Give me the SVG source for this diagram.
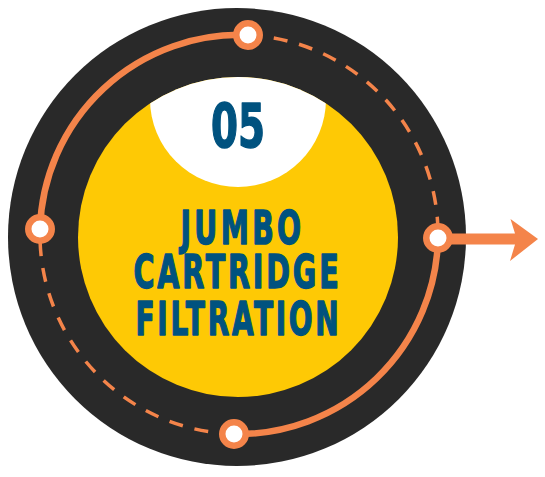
<svg xmlns="http://www.w3.org/2000/svg" width="545" height="477" viewBox="0 0 545 477">
  <defs>
    <clipPath id="yellowClip">
      <circle cx="238" cy="237" r="160"/>
    </clipPath>
    <style>
      .solid { fill: none; stroke: #f4844a; stroke-width: 6.5; stroke-linecap: round; }
      .dashed { fill: none; stroke: #f4844a; stroke-width: 3.5; stroke-dasharray: 14 12; }
      .node { fill: #ffffff; stroke: #f4844a; stroke-width: 6.5; }
      .title { font-family: "DejaVu Sans Condensed", "Liberation Sans Narrow", "Liberation Sans", sans-serif; font-weight: bold; fill: #00527f; stroke: #00527f; stroke-width: 1.4; stroke-linejoin: round; text-anchor: middle; }
    </style>
  </defs>

  <g id="disc">
    <circle cx="237" cy="237" r="229" fill="#292929"/>
    <circle cx="238" cy="237" r="160" fill="#fec905"/>
    <circle cx="238" cy="99" r="88" fill="#ffffff" clip-path="url(#yellowClip)"/>
  </g>

  <g id="connectors">
    <path class="solid" d="M40,229 A200,200 0 0 1 248,35"/>
    <path class="dashed" d="M248,35 A200,200 0 0 1 438,238"/>
    <path class="solid" d="M438,238 A200,200 0 0 1 234,434"/>
    <path class="dashed" d="M234,434 A200,200 0 0 1 40,229"/>
    <polygon fill="#f4844a" points="438,233.5 515,233.5 510.5,219 538,239 510,261 515,244.5 438,244.5"/>
  </g>

  <g id="node-top"><circle class="node" cx="248" cy="35" r="11.75"/></g>
  <g id="node-left"><circle class="node" cx="40" cy="229" r="11.75"/></g>
  <g id="node-right"><circle class="node" cx="438" cy="238" r="11.75"/></g>
  <g id="node-bottom"><circle class="node" cx="234" cy="434" r="11.75"/></g>

  <g id="label">
    <text class="title" x="238" y="146.5" font-size="60" textLength="54" lengthAdjust="spacingAndGlyphs">05</text>
    <text class="title" x="242.5" y="243.5" font-size="47" letter-spacing="5" textLength="124" lengthAdjust="spacingAndGlyphs">JUMBO</text>
    <text class="title" x="237.5" y="287.5" font-size="46" letter-spacing="4" textLength="208" lengthAdjust="spacingAndGlyphs">CARTRIDGE</text>
    <text class="title" x="238.5" y="334.5" font-size="46" letter-spacing="4" textLength="206" lengthAdjust="spacingAndGlyphs">FILTRATION</text>
  </g>
</svg>
